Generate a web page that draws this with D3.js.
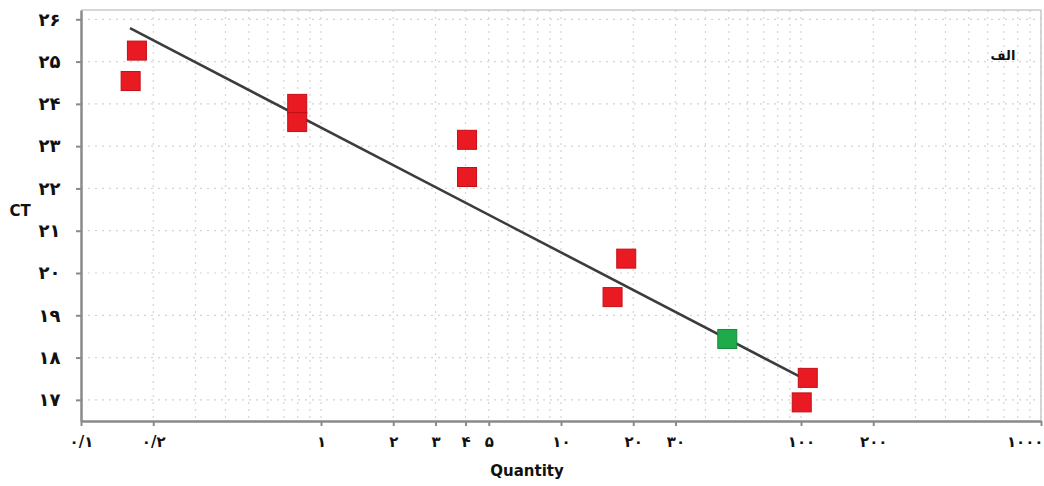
<!DOCTYPE html>
<html><head><meta charset="utf-8">
<script src="https://cdn.jsdelivr.net/npm/d3@7"></script>
<style>
html,body{margin:0;padding:0;background:#fff;}
svg{display:block;font-family:"DejaVu Sans",sans-serif;}
</style></head>
<body><svg id="c" width="1044" height="486"></svg>
<script>
// Data
const quantities = [0.171, 0.161, 0.796, 0.796, 4.06, 4.06, 18.7, 16.4, 49.3, 106.7, 100.7];
const ctValues   = [25.26, 24.54, 24.0, 23.57, 23.15, 22.27, 20.34, 19.43, 18.44, 17.52, 16.94];
const pointKind  = ["std","std","std","std","std","std","std","std","unk","std","std"];
const fitX = [0.16, 98];
const fitY = [25.79, 17.56];
const xTickValues = [0.1, 0.2, 1, 2, 3, 4, 5, 10, 20, 30, 100, 200, 1000];
const xTickLabels = ["۰/۱","۰/۲","۱","۲","۳","۴","۵","۱۰","۲۰","۳۰","۱۰۰","۲۰۰","۱۰۰۰"];
const yTickValues = [17, 18, 19, 20, 21, 22, 23, 24, 25, 26];
const yTickLabels = ["۱۷","۱۸","۱۹","۲۰","۲۱","۲۲","۲۳","۲۴","۲۵","۲۶"];
const xTitle = "Quantity";
const yTitle = "CT";
const panelLabel = "الف";

const svg = d3.select("#c");
const L = 81, R = 1041, T = 10, B = 421;
const x = d3.scaleLog().domain([0.1, 1000]).range([L, R]);
const y = d3.scaleLinear().domain([16.5, 26.22]).range([B, T]);

// minor vertical grid
const minor = [];
for (let d = 0.1; d < 1000; d *= 10) for (let k = 1; k <= 9; k++) minor.push(+(d * k).toPrecision(3));
minor.push(1000);
const g = svg.append("g");
g.selectAll("line.vg").data(minor.filter(v => v > 0.1)).join("line")
  .attr("x1", d => x(d)).attr("x2", d => x(d)).attr("y1", T).attr("y2", B)
  .attr("stroke", "#d4d4d4").attr("stroke-width", 1.2).attr("stroke-dasharray", "2,5");
g.selectAll("line.hg").data(yTickValues).join("line")
  .attr("x1", L).attr("x2", R).attr("y1", d => y(d)).attr("y2", d => y(d))
  .attr("stroke", "#d4d4d4").attr("stroke-width", 1.2).attr("stroke-dasharray", "2,5");

// frame
svg.append("line").attr("x1", L).attr("x2", R).attr("y1", T).attr("y2", T).attr("stroke", "#c8c8c8").attr("stroke-width", 1.5);
svg.append("line").attr("x1", R).attr("x2", R).attr("y1", T).attr("y2", B).attr("stroke", "#c8c8c8").attr("stroke-width", 1.5);

// axes
const xAxis = d3.axisBottom(x).tickValues(xTickValues).tickSize(5).tickSizeOuter(0)
  .tickFormat((d, i) => xTickLabels[i]);
const yAxis = d3.axisLeft(y).tickValues(yTickValues).tickSize(5).tickSizeOuter(0)
  .tickFormat((d, i) => yTickLabels[i]);
const gx = svg.append("g").attr("transform", `translate(0,${B})`).call(xAxis);
const gy = svg.append("g").attr("transform", `translate(${L},0)`).call(yAxis);
[gx, gy].forEach(a => {
  a.select(".domain").attr("stroke", "#8a8a8a").attr("stroke-width", 2.5);
  a.selectAll(".tick line").attr("stroke", "#8a8a8a").attr("stroke-width", 2);
  a.selectAll("text").attr("fill", "#111").attr("font-weight", "bold")
    .attr("font-family", "DejaVu Sans").style("direction", "ltr").style("unicode-bidi", "plaintext");
});
gx.selectAll("text").attr("font-size", 15).attr("dy", "1.2em");
gx.selectAll(".tick").filter(d => d === 1000).select("text").attr("text-anchor", "end").attr("dx", 2);
gy.selectAll("text").attr("font-size", 18).attr("dx", "-0.7em");

// titles
svg.append("text").attr("x", 527).attr("y", 476).attr("text-anchor", "middle")
  .attr("font-size", 15).attr("font-weight", "bold").attr("fill", "#111").text(xTitle);
svg.append("text").attr("x", 20).attr("y", 216).attr("text-anchor", "middle")
  .attr("font-size", 15).attr("font-weight", "bold").attr("fill", "#111").text(yTitle);
svg.append("text").attr("x", 1003).attr("y", 60).attr("text-anchor", "middle")
  .attr("font-size", 13).attr("font-weight", "bold").attr("fill", "#111").text(panelLabel);

// fit line
svg.append("line").attr("x1", x(fitX[0])).attr("y1", y(fitY[0]))
  .attr("x2", x(fitX[1])).attr("y2", y(fitY[1]))
  .attr("stroke", "#3c3c3c").attr("stroke-width", 2.6);

// points
const pts = quantities.map((q, i) => ({q, c: ctValues[i], k: pointKind[i]}));
const s = 19;
svg.selectAll("rect.pt").data(pts).join("rect")
  .attr("x", d => x(d.q) - s / 2).attr("y", d => y(d.c) - s / 2)
  .attr("width", s).attr("height", s)
  .attr("fill", d => d.k === "unk" ? "#1faa4b" : "#ea1a22")
  .attr("stroke", d => d.k === "unk" ? "#168a3a" : "#c30f16").attr("stroke-width", 1);
</script></body></html>
